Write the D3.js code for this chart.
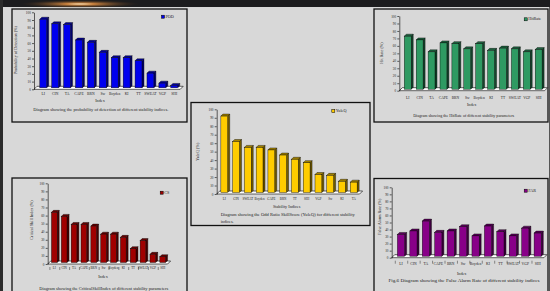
<!DOCTYPE html>
<html>
<head>
<meta charset="utf-8">
<script src="https://cdnjs.cloudflare.com/ajax/libs/d3/7.8.5/d3.min.js"></script>
<style>
body { margin: 0; background: #d8d8d8; }
svg { display: block; font-family: "Liberation Serif", "DejaVu Serif", serif; }
</style>
</head>
<body>
<div id="app"></div>
<script>
// ---- data ----
const indices = ["LI", "CIN", "TA", "CAPE", "BRN", "Sw", "Boyden", "KI", "TT", "SWEAT", "VGP", "SHI"];
const podValues = [91, 85, 84, 64, 61, 48, 41, 41, 37, 21, 8, 5];
const hitRateValues = [73, 68, 52, 64, 63, 56, 63, 54, 57, 56, 52, 55];
const yuleIndices = ["LI", "CIN", "SWEAT", "Boyden", "CAPE", "BRN", "TT", "SHI", "VGP", "Sw", "KI", "TA"];
const yuleValues = [92, 62, 55, 55, 52, 46, 41, 37, 23, 22, 15, 14];
const csValues = [64, 59, 49, 49, 47, 37, 37, 33, 19, 29, 12, 9];
const farValues = [33, 38, 52, 36, 38, 44, 31, 45, 37, 31, 42, 35];
const yTicks = [0, 10, 20, 30, 40, 50, 60, 70, 80, 90, 100];

// ---- layout of the slide ----
const W = 550, H = 291;

const panels = [
	{ x: 12, y: 9, w: 175, h: 113 },
	{ x: 374, y: 9, w: 174, h: 113 },
	{ x: 191, y: 102.5, w: 179, h: 123 },
	{ x: 12, y: 178, w: 175, h: 120 },
	{ x: 374, y: 178.5, w: 174, h: 120 }
];

const charts = [
	{
		labels: indices, values: podValues, color: "#0000ee", legend: "POD",
		axisX: 34, yTop: 12.3, yBot: 89.3, band: [36.3, 179.2],
		labelY: 94, labelSize: 3.7, titleX: 100, titleY: 100.7, title: "Index",
		caption: ["Diagram showing the probability of detection of different stability indices."],
		capX: 100.8, capY: 110, capW: 135, capAnchor: "middle",
		legX: 163, legY: 16.7, yTitle: "Probability of Detection (%)", yTitleX: 16, yTitleY: 50
	},
	{
		labels: indices, values: hitRateValues, color: "#2e9a62", legend: "HitRate",
		axisX: 399.3, yTop: 16, yBot: 90.7, band: [400.8, 543.6],
		labelY: 97.7, labelSize: 3.6, titleX: 471.7, titleY: 105.3, title: "Index",
		caption: ["Diagram showing the HitRate of different stability parameters"],
		capX: 463.7, capY: 116.3, capW: 101, capAnchor: "middle",
		legX: 525.7, legY: 19.3, yTitle: "Hit Rate (%)", yTitleX: 381.7, yTitleY: 53
	},
	{
		labels: yuleIndices, values: yuleValues, color: "#ffcc00", legend: "YuleQ",
		axisX: 216.7, yTop: 109.3, yBot: 194, band: [217.4, 358.6],
		labelY: 199, labelSize: 3.2, titleX: 286.7, titleY: 207.3, title: "Stability Indices",
		caption: ["Diagram showing the Odd Ratio SkillScore (YuleQ) for different stability", "indices."],
		capX: 220.7, capY: 215, capW: 134, capAnchor: "start",
		legX: 333.3, legY: 111, yTitle: "YuleQ (%)", yTitleX: 197.7, yTitleY: 151.7
	},
	{
		labels: indices, values: csValues, color: "#a00000", legend: "CS",
		axisX: 47.7, yTop: 183.3, yBot: 264, band: [48.4, 166.6],
		labelY: 268.7, labelSize: 3.1, titleX: 103, titleY: 277.3, title: "Index",
		caption: ["Diagram showing the CriticalSkillIndex of different stability parameters"],
		capX: 103.8, capY: 289, capW: 129, capAnchor: "middle",
		legX: 161.7, legY: 192.7, yTitle: "Critical Skill Index (%)", yTitleX: 31.7, yTitleY: 220,
		xTicks: true
	},
	{
		labels: indices, values: farValues, color: "#880088", legend: "FAR",
		axisX: 391.7, yTop: 187.3, yBot: 257.7, band: [393.8, 542.9],
		labelY: 264, labelSize: 3.7, titleX: 461.7, titleY: 274.3, title: "Index",
		caption: ["Fig.6 Diagram showing the False Alarm Rate of different stability indices"],
		capX: 464, capY: 281, capW: 151, capAnchor: "middle",
		legX: 525.7, legY: 190.7, yTitle: "False Alarm Rate (%)", yTitleX: 380, yTitleY: 216.7,
		xTicks: true
	}
];

const svg = d3.select("#app").append("svg")
	.attr("width", W)
	.attr("height", H);

// slide background
svg.append("rect").attr("width", W).attr("height", H).attr("fill", "#d8d8d8");

const defs = svg.append("defs");
const glow = defs.append("radialGradient").attr("id", "glow")
	.attr("cx", "0.5").attr("cy", "0.5").attr("r", "0.5");
glow.append("stop").attr("offset", "0").attr("stop-color", "#fff2d0").attr("stop-opacity", 1);
glow.append("stop").attr("offset", "0.25").attr("stop-color", "#d88a40").attr("stop-opacity", 0.9);
glow.append("stop").attr("offset", "1").attr("stop-color", "#3a2618").attr("stop-opacity", 0);

// dark header band with a warm highlight
svg.append("rect").attr("x", 0).attr("y", 0).attr("width", W).attr("height", 7).attr("fill", "#1c1c1e");
svg.append("ellipse").attr("cx", 80).attr("cy", 4).attr("rx", 60).attr("ry", 4).attr("fill", "url(#glow)");
svg.append("rect").attr("x", 0).attr("y", 0).attr("width", 3).attr("height", H).attr("fill", "#2b2b2b");
svg.append("rect").attr("x", 549).attr("y", 7).attr("width", 1).attr("height", H).attr("fill", "#555");

// panel frames
svg.selectAll("rect.panel")
	.data(panels)
	.enter()
	.append("rect")
	.attr("class", "panel")
	.attr("x", d => d.x)
	.attr("y", d => d.y)
	.attr("width", d => d.w)
	.attr("height", d => d.h)
	.attr("fill", "#d8d8d8")
	.attr("stroke", "#111")
	.attr("stroke-width", 1.3);

charts.forEach(c => drawChart(c));

function drawChart(c) {
	const g = svg.append("g");
	const data = c.labels.map((label, i) => ({ label: label, value: c.values[i] }));

	const x = d3.scaleBand().domain(c.labels).range(c.band).padding(0);
	const y = d3.scaleLinear().domain([0, 100]).range([c.yBot, c.yTop]);

	const depth = 3;
	const floorEnd = c.band[1] + 1;

	// 3d floor
	g.append("path")
		.attr("d", `M${c.axisX},${c.yBot}L${floorEnd},${c.yBot}L${floorEnd + depth},${c.yBot - depth}L${c.axisX + depth},${c.yBot - depth}Z`)
		.attr("fill", "#fff")
		.attr("stroke", "#000")
		.attr("stroke-width", 0.6);

	// y axis
	const axisG = g.append("g")
		.attr("transform", `translate(${c.axisX},0)`)
		.call(d3.axisLeft(y).tickValues(yTicks).tickSize(2).tickSizeOuter(0).tickPadding(1.2));
	axisG.attr("font-family", null).attr("font-size", null);
	axisG.selectAll("path, line").attr("stroke", "#000").attr("stroke-width", 0.6);
	axisG.selectAll("text").attr("font-size", 3.3).attr("fill", "#222");

	// bars (front, side, top)
	const bw = x.bandwidth() * 0.58;
	const dd = 2;
	const bars = g.selectAll("g.bar")
		.data(data)
		.enter()
		.append("g")
		.attr("class", "bar");

	const left = d => x(d.label) + (x.bandwidth() - bw) / 2 + 1;
	const bottom = c.yBot - 1.5;

	bars.append("path")
		.attr("d", d => {
			const xr = left(d) + bw, t = y(d.value);
			return `M${xr},${t}L${xr + dd},${t - dd}L${xr + dd},${bottom - dd}L${xr},${bottom}Z`;
		})
		.attr("fill", d3.color(c.color).darker(2.2))
		.attr("stroke", "#000")
		.attr("stroke-width", 0.4);

	bars.append("path")
		.attr("d", d => {
			const xl = left(d), xr = xl + bw, t = y(d.value);
			return `M${xl},${t}L${xl + dd},${t - dd}L${xr + dd},${t - dd}L${xr},${t}Z`;
		})
		.attr("fill", d3.color(c.color).darker(1.2))
		.attr("stroke", "#000")
		.attr("stroke-width", 0.4);

	bars.append("rect")
		.attr("x", d => left(d))
		.attr("y", d => y(d.value))
		.attr("width", bw)
		.attr("height", d => bottom - y(d.value))
		.attr("fill", c.color)
		.attr("stroke", "#000")
		.attr("stroke-width", 0.4);

	// category labels
	g.selectAll("text.xlab")
		.data(c.labels)
		.enter()
		.append("text")
		.attr("class", "xlab")
		.attr("x", d => x(d) + x.bandwidth() / 2 + 1)
		.attr("y", c.labelY)
		.attr("text-anchor", "middle")
		.attr("dominant-baseline", "middle")
		.attr("font-size", c.labelSize)
		.attr("fill", "#222")
		.text(d => d);

	if (c.xTicks) {
		g.selectAll("line.xtick")
			.data(c.labels)
			.enter()
			.append("line")
			.attr("x1", d => x(d) + 1.5)
			.attr("x2", d => x(d) + 1.5)
			.attr("y1", c.yBot + 3)
			.attr("y2", c.yBot + 6)
			.attr("stroke", "#000")
			.attr("stroke-width", 0.4);
	}

	// axis titles
	g.append("text")
		.attr("x", c.titleX)
		.attr("y", c.titleY)
		.attr("text-anchor", "middle")
		.attr("dominant-baseline", "middle")
		.attr("font-size", 4.2)
		.attr("fill", "#222")
		.text(c.title);

	g.append("text")
		.attr("transform", `translate(${c.yTitleX},${c.yTitleY}) rotate(-90)`)
		.attr("text-anchor", "middle")
		.attr("dominant-baseline", "middle")
		.attr("font-size", 4.2)
		.attr("fill", "#222")
		.text(c.yTitle);

	// caption
	c.caption.forEach((line, i) => {
		const t = g.append("text")
			.attr("x", c.capX)
			.attr("y", c.capY + i * 7.3)
			.attr("text-anchor", c.capAnchor)
			.attr("dominant-baseline", "middle")
			.attr("font-size", 4.2)
			.attr("fill", "#222")
			.text(line);
		if (i === 0) t.attr("textLength", c.capW).attr("lengthAdjust", "spacingAndGlyphs");
	});

	// legend
	g.append("rect")
		.attr("x", c.legX - 1.5)
		.attr("y", c.legY - 1.5)
		.attr("width", 3)
		.attr("height", 3)
		.attr("fill", c.color)
		.attr("stroke", "#000")
		.attr("stroke-width", 0.5);

	g.append("text")
		.attr("x", c.legX + 2.5)
		.attr("y", c.legY)
		.attr("dominant-baseline", "middle")
		.attr("font-size", 4.2)
		.attr("fill", "#222")
		.text(c.legend);
}
</script>
</body>
</html>
